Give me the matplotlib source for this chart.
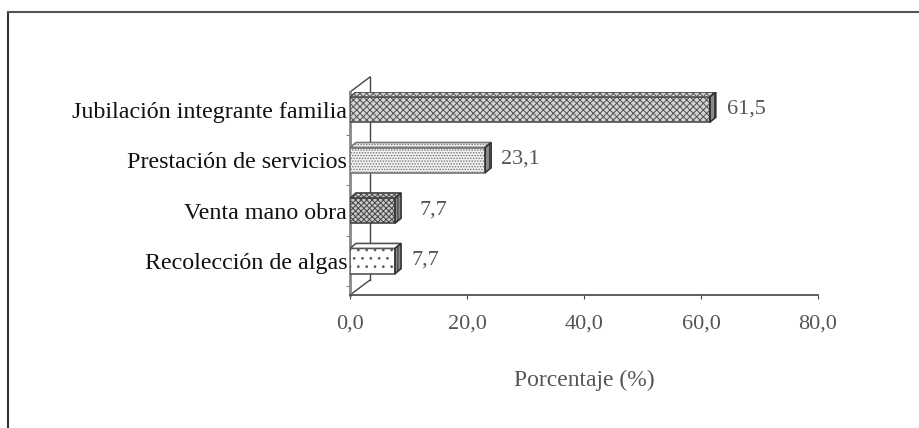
import matplotlib
matplotlib.use("Agg")
import matplotlib.pyplot as plt
from matplotlib.patches import Polygon
from matplotlib.lines import Line2D

plt.rcParams['font.family'] = ['Liberation Serif', 'DejaVu Serif']
plt.rcParams['hatch.linewidth'] = 0.7

categories = ["Recolección de algas", "Venta mano obra",
              "Prestación de servicios", "Jubilación integrante familia"]
values = [7.7, 7.7, 23.1, 61.5]
value_labels = ["7,7", "7,7", "23,1", "61,5"]
hatches = ["..", "xxxxxx", "......", "xxxxx"]
faces = ["#ffffff", "#c8c8c8", "#f0f0f0", "#d4d4d4"]
edges = ["#555555", "#444444", "#777777", "#505050"]
label_gap = [10, 18, 10, 11]
xticks = [0, 20, 40, 60, 80]
xtick_labels = ["0,0", "20,0", "40,0", "60,0", "80,0"]

W, H = 919, 428
fig = plt.figure(figsize=(W / 100, H / 100), dpi=100)
ax_l, ax_r, ax_b, ax_t = 350, 818, 295, 92
ax = fig.add_axes([ax_l / W, (H - ax_b) / H, (ax_r - ax_l) / W, (ax_b - ax_t) / H])
ymin, ymax = -0.673, 3.35
ax.set_xlim(0, 80)
ax.set_ylim(ymin, ymax)

# pixel -> data scale
sx = 80 / (ax_r - ax_l)
sy = (ymax - ymin) / (ax_b - ax_t)

# back wall (3D depth)
wdx, wdy = 20 * sx, 15 * sy
wall = dict(color="#444444", lw=1.0, clip_on=False)
ax.plot([0, wdx], [ymin, ymin + wdy], **wall)
ax.plot([0, wdx], [ymax, ymax + wdy], **wall)
ax.plot([wdx, wdx], [ymin + wdy, ymax + wdy], **wall)

# bars with small depth
bh = 0.5
bdx, bdy = 6 * sx, 5 * sy
for i, v in enumerate(values):
    y0, y1 = i - bh / 2, i + bh / 2
    front = Polygon([(0, y0), (v, y0), (v, y1), (0, y1)], closed=True,
                    facecolor=faces[i], edgecolor=edges[i], hatch=hatches[i], lw=1.2, zorder=3)
    top = Polygon([(0, y1), (v, y1), (v + bdx, y1 + bdy), (bdx, y1 + bdy)], closed=True,
                  facecolor=faces[i], edgecolor=edges[i], hatch=hatches[i], lw=1.2, zorder=3)
    side = Polygon([(v, y0), (v + bdx, y0 + bdy), (v + bdx, y1 + bdy), (v, y1)], closed=True,
                   facecolor="#8a8a8a", edgecolor="#333333", hatch="||||", lw=1.2, zorder=3)
    for p in (front, top, side):
        ax.add_patch(p)
    ax.text(v + bdx + label_gap[i] * sx, i + 0.02, value_labels[i], va="center", ha="left",
            fontsize=16, color="#555555")

for s in ["top", "right"]:
    ax.spines[s].set_visible(False)
ax.spines["left"].set_color("#888888")
ax.spines["left"].set_linewidth(2)
ax.spines["bottom"].set_color("#444444")
ax.spines["bottom"].set_linewidth(1.2)

ax.set_xticks(xticks)
ax.set_xticklabels(xtick_labels, fontsize=16, color="#555555")
ax.tick_params(axis="x", length=3, color="#444444", pad=11)
ax.set_yticks(range(len(categories)))
ax.set_yticklabels(categories, fontsize=17.3, color="#111111")
ax.set_yticks([i + 0.5 for i in range(-1, 3)], minor=True)
ax.tick_params(axis="y", which="major", length=0, pad=2)
ax.tick_params(axis="y", which="minor", length=3, color="#666666")
ax.set_xlabel("Porcentaje (%)", fontsize=17, color="#555555", labelpad=26)

# outer frame (top and left edges)
fig.add_artist(Line2D([8 / W, 8 / W], [0, (H - 12) / H], color="#333333", lw=1.5))
fig.add_artist(Line2D([8 / W, 1], [(H - 12) / H, (H - 12) / H], color="#555555", lw=1.5))

fig.savefig("out.png", dpi=100, facecolor="white")
